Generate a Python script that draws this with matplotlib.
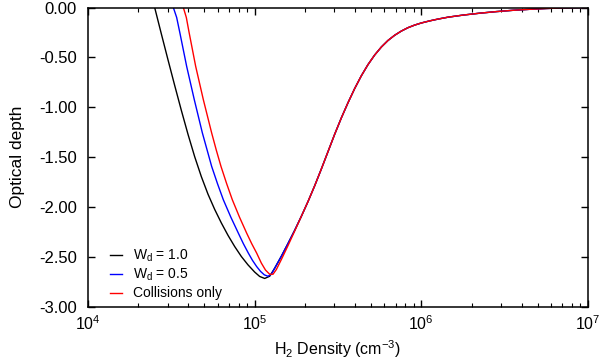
import matplotlib
matplotlib.use("Agg")
import matplotlib.pyplot as plt
from matplotlib.ticker import LogLocator, FixedLocator, FormatStrFormatter, NullFormatter

plt.rcParams['font.family'] = ['Liberation Sans', 'DejaVu Sans']
plt.rcParams['mathtext.fontset'] = 'custom'
plt.rcParams['mathtext.rm'] = 'Liberation Sans'
plt.rcParams['mathtext.it'] = 'Liberation Sans:italic'
plt.rcParams['mathtext.default'] = 'regular'

# ---- data (log10 of H2 density, optical depth) ----
# shared rising branch (curves coincide right of the minimum)
shared_logn = [5.12, 5.16, 5.20, 5.24, 5.28, 5.32, 5.36, 5.40, 5.44, 5.48,
               5.52, 5.56, 5.60, 5.64, 5.68, 5.72, 5.76, 5.80, 5.84, 5.88,
               5.92, 5.96, 6.00, 6.05, 6.10, 6.16, 6.25, 6.35, 6.45, 6.55,
               6.65, 6.75, 6.85, 6.95, 7.00]
shared_tau = [-2.612, -2.492, -2.364, -2.232, -2.092, -1.944, -1.786, -1.618, -1.444, -1.270,
              -1.106, -0.954, -0.812, -0.684, -0.572, -0.476, -0.396, -0.330, -0.278, -0.236,
              -0.202, -0.176, -0.155, -0.134, -0.116, -0.097, -0.076, -0.057, -0.041, -0.028,
              -0.018, -0.010, -0.004, -0.001, 0.0]

black_logn = [4.40, 4.44, 4.48, 4.52, 4.56, 4.60, 4.64, 4.68, 4.72, 4.76,
              4.80, 4.84, 4.88, 4.92, 4.96, 5.00, 5.03, 5.06, 5.09]
black_tau = [0.0, -0.264, -0.524, -0.780, -1.030, -1.270, -1.494, -1.694, -1.870, -2.022,
             -2.158, -2.282, -2.394, -2.494, -2.578, -2.650, -2.694, -2.714, -2.692]

blue_logn = [4.512, 4.532, 4.552, 4.592, 4.638, 4.686, 4.742, 4.777, 4.812, 4.857,
             4.902, 4.932, 4.962, 4.987, 5.012, 5.035, 5.058, 5.08, 5.10]
blue_tau = [0.0, -0.10, -0.26, -0.59, -0.925, -1.255, -1.592, -1.765, -1.926, -2.10,
            -2.26, -2.365, -2.46, -2.533, -2.595, -2.643, -2.678, -2.692, -2.672]

red_logn = [4.572, 4.590, 4.606, 4.646, 4.692, 4.742, 4.770, 4.798, 4.832, 4.866,
            4.909, 4.952, 4.982, 5.012, 5.040, 5.065, 5.09, 5.11, 5.13, 5.16,
            5.20, 5.24]
red_tau = [0.0, -0.10, -0.245, -0.589, -0.923, -1.257, -1.43, -1.592, -1.765, -1.926,
           -2.10, -2.26, -2.365, -2.46, -2.56, -2.63, -2.672, -2.672, -2.625, -2.525,
           -2.385, -2.24]

labels = [r'W$_d$ = 1.0', r'W$_d$ = 0.5', 'Collisions only']
colors = ['black', '#0000ff', '#ff0000']

fig = plt.figure(figsize=(6.0, 3.62), dpi=100)
ax = fig.add_axes([88/600, 1-307/362, 500/600, 299.5/362])

series = [(black_logn, black_tau), (blue_logn, blue_tau), (red_logn, red_tau)]
for (lx, ty), lab, c in zip(series, labels, colors):
    start = shared_logn.index(5.12) if lx[-1] < 5.12 else shared_logn.index(5.28)
    xs = [10**v for v in lx + shared_logn[start:]]
    ax.plot(xs, ty + shared_tau[start:], color=c, lw=1.0, label=lab)

ax.set_xscale('log')
ax.set_xlim(1e4, 1e7)
ax.set_ylim(-3.0, 0.0)
ax.yaxis.set_major_locator(FixedLocator([-3.0, -2.5, -2.0, -1.5, -1.0, -0.5, 0.0]))
ax.yaxis.set_major_formatter(FormatStrFormatter('%.2f'))
ax.xaxis.set_major_locator(LogLocator(base=10, numticks=10))
ax.xaxis.set_minor_locator(LogLocator(base=10, subs=range(2, 10), numticks=20))
ax.xaxis.set_minor_formatter(NullFormatter())

ax.tick_params(which='both', direction='in', top=True, right=True)
ax.tick_params(which='major', length=5, width=1.0)
ax.tick_params(which='minor', length=3, width=0.8)
ax.tick_params(axis='y', pad=8, labelsize=12)
ax.tick_params(axis='x', pad=5, labelsize=11.5)
for s in ax.spines.values():
    s.set_linewidth(1.1)

ax.set_xlabel(r'H$_2$ Density (cm$^{-3}$)', fontsize=11.5, labelpad=4)
ax.set_ylabel('Optical depth', fontsize=12.5, labelpad=10)

leg = ax.legend(loc='lower left', bbox_to_anchor=(0.044, 0.022), frameon=False,
                fontsize=10, handlelength=0.85, handletextpad=0.8,
                labelspacing=0.22, borderpad=0.0, borderaxespad=0.0)

fig.savefig('out.png', dpi=100)
